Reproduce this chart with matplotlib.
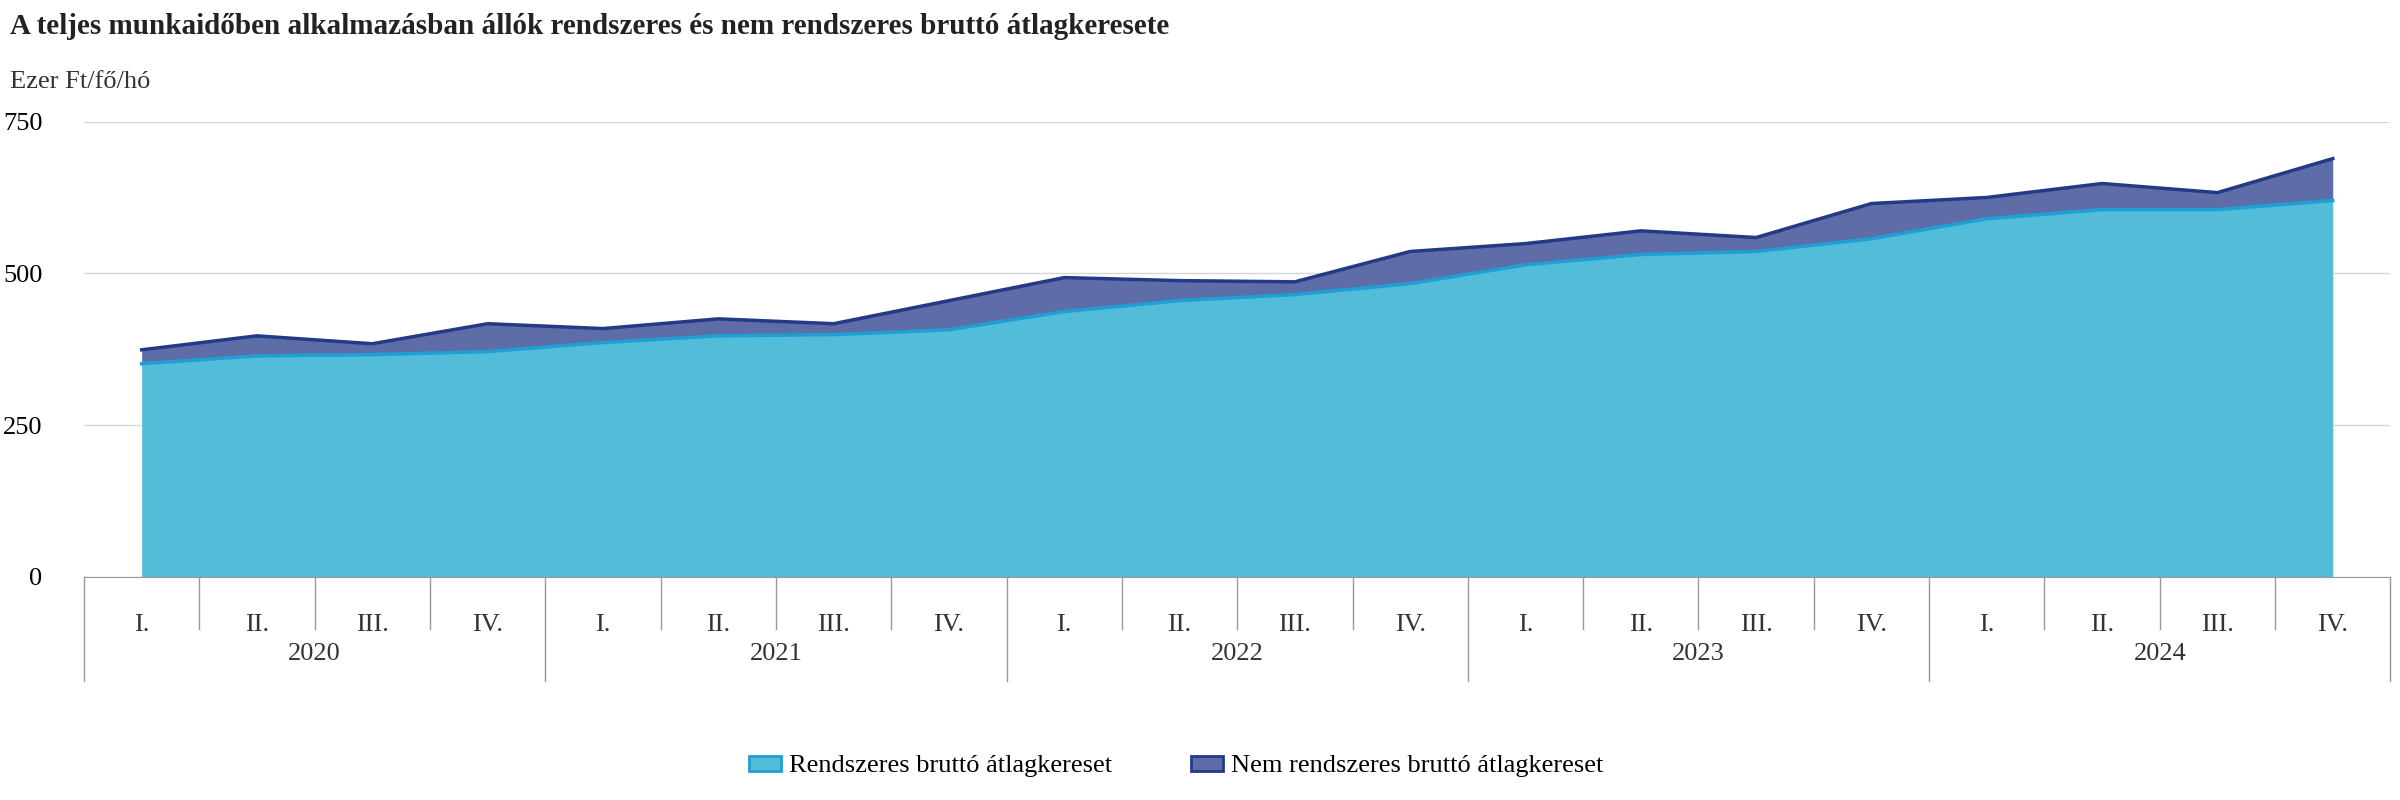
import matplotlib
matplotlib.use("Agg")
import matplotlib.pyplot as plt
from matplotlib.patches import Patch
from matplotlib.lines import Line2D
import numpy as np

years = ["2020", "2021", "2022", "2023", "2024"]
quarters = ["I.", "II.", "III.", "IV."]
rendszeres = [351, 364, 366, 371, 386, 397, 399, 407, 437, 455, 465, 483,
              514, 531, 536, 557, 590, 605, 605, 620]
osszes = [374, 397, 384, 417, 409, 425, 417, 455, 493, 488, 486, 536,
          549, 570, 559, 615, 625, 648, 633, 689]
nem_rendszeres = [t - r for t, r in zip(osszes, rendszeres)]

plt.rcParams["font.family"] = "Liberation Serif"
fig = plt.figure(figsize=(24, 8), dpi=100)
ax = fig.add_axes([0.035, 0.279, 0.961, 0.569])

x = np.arange(len(rendszeres))
top = np.array(rendszeres) + np.array(nem_rendszeres)
c_light, c_light_line = "#52BCD9", "#1FA0D2"
c_dark, c_dark_line = "#5E6CA8", "#233A86"
ax.fill_between(x, 0, rendszeres, color=c_light, lw=0)
ax.fill_between(x, rendszeres, top, color=c_dark, lw=0)
ax.plot(x, rendszeres, color=c_light_line, lw=2.5)
ax.plot(x, top, color=c_dark_line, lw=2.5)

ax.set_xlim(-0.5, len(x) - 0.5)
ax.set_ylim(0, 750)
ax.set_yticks([0, 250, 500, 750])
ax.set_yticklabels(["0", "250", "500", "750"], fontsize=19)
ax.tick_params(axis="y", length=0, pad=30)
ax.set_xticks([])
ax.grid(axis="y", color="#d6d6d6", lw=1)
ax.set_axisbelow(True)
for s in ["top", "right", "left"]:
    ax.spines[s].set_visible(False)
ax.spines["bottom"].set_color("#999999")

tr = ax.get_xaxis_transform()
for i in range(len(x)):
    ax.text(i, -0.105, quarters[i % 4], transform=tr, ha="center", va="center", fontsize=19, color="#333")
for b in range(len(x) + 1):
    pos = b - 0.5
    end = -0.23 if b % 4 == 0 else -0.115
    ax.add_line(Line2D([pos, pos], [0, end], transform=tr, color="#999999", lw=1, clip_on=False))
for k, yr in enumerate(years):
    ax.text(4 * k + 1.5, -0.17, yr, transform=tr, ha="center", va="center", fontsize=19, color="#333")

fig.text(0.004, 0.967, "A teljes munkaidőben alkalmazásban állók rendszeres és nem rendszeres bruttó átlagkeresete",
         fontsize=21, fontweight="bold", va="center", color="#222")
fig.text(0.004, 0.897, "Ezer Ft/fő/hó", fontsize=19, va="center", color="#333")

handles = [Patch(facecolor=c_light, edgecolor=c_light_line, lw=2),
           Patch(facecolor=c_dark, edgecolor=c_dark_line, lw=2)]
fig.legend(handles, ["Rendszeres bruttó átlagkereset", "Nem rendszeres bruttó átlagkereset"],
           loc="center", bbox_to_anchor=(0.49, 0.042), ncol=2, frameon=False, fontsize=19,
           handlelength=1.2, handleheight=0.5, columnspacing=3, handletextpad=0.3)

fig.savefig("out.png", dpi=100)
